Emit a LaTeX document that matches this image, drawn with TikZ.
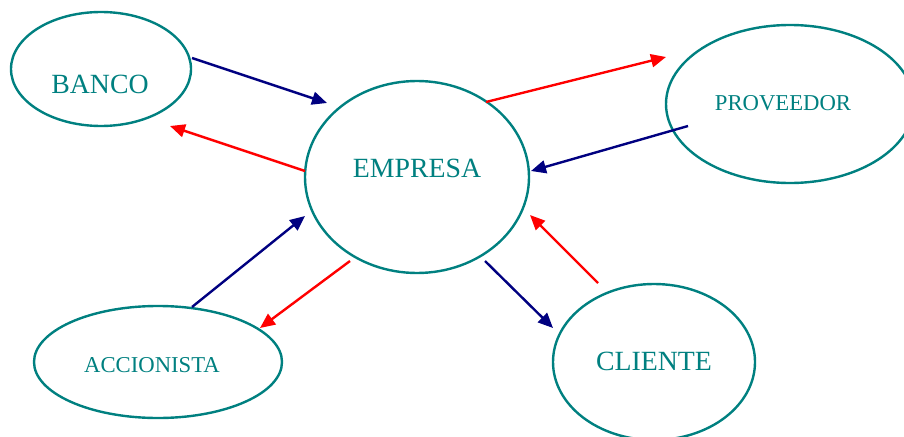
\documentclass[tikz,border=0pt]{standalone}
\usepackage{fontspec}
\setmainfont{Liberation Serif}
\usetikzlibrary{shapes.geometric,arrows.meta}
\definecolor{tealline}{HTML}{008080}
\definecolor{navyline}{HTML}{000080}
\definecolor{redline}{HTML}{FF0000}
\tikzset{
  entity/.style={ellipse, draw=tealline, line width=2.4pt, inner sep=0pt},
  biglabel/.style={text=tealline, anchor=base, inner sep=0pt, font=\fontsize{27.8}{32}\selectfont},
  smalllabel/.style={text=tealline, anchor=base, inner sep=0pt, font=\fontsize{22.7}{27}\selectfont},
  flow/.style={line width=2.4pt, -{Triangle[length=15pt,width=13pt]}},
  outflow/.style={flow, draw=navyline, fill=navyline},
  inflow/.style={flow, draw=redline, fill=redline}
}
\begin{document}
\begin{tikzpicture}[x=1pt, y=-1pt]
  \clip (0,0) rectangle (904,436);
  \useasboundingbox (0,0) rectangle (904,436);

  % entities
  \node[entity, minimum width=180pt, minimum height=114pt] (banco) at (101,69) {};
  \node[entity, minimum width=224pt, minimum height=192pt] (empresa) at (417,177) {};
  \node[entity, minimum width=248pt, minimum height=158pt] (proveedor) at (790,104) {};
  \node[entity, minimum width=248pt, minimum height=112pt] (accionista) at (158,362) {};
  \node[entity, minimum width=202pt, minimum height=156pt] (cliente) at (654,362) {};

  % labels
  \node[biglabel] (banco-txt) at (100,93) {BANCO};
  \node[biglabel] (empresa-txt) at (417,177) {EMPRESA};
  \node[smalllabel] (proveedor-txt) at (783,110.5) {PROVEEDOR};
  \node[smalllabel] (accionista-txt) at (152,372.5) {ACCIONISTA};
  \node[biglabel] (cliente-txt) at (654,370.5) {CLIENTE};

  % connector end points
  \coordinate (b-out) at (192,58);   \coordinate (e-in1) at (327,103);
  \coordinate (e-out1) at (305,171); \coordinate (b-in) at (170,126);
  \coordinate (e-out2) at (486,102); \coordinate (p-in) at (666,57);
  \coordinate (p-out) at (688,126);  \coordinate (e-in2) at (531,171);
  \coordinate (a-out) at (192,307);  \coordinate (e-in3) at (305,216);
  \coordinate (e-out3) at (350,261); \coordinate (a-in) at (260,328);
  \coordinate (e-out4) at (485,261); \coordinate (c-in) at (553,328);
  \coordinate (c-out) at (598,283);  \coordinate (e-in4) at (530,215);

  % money and goods flows
  \draw[outflow] (b-out) -- (e-in1);
  \draw[inflow] (e-out1) -- (b-in);
  \draw[inflow] (e-out2) -- (p-in);
  \draw[outflow] (p-out) -- (e-in2);
  \draw[outflow] (a-out) -- (e-in3);
  \draw[inflow] (e-out3) -- (a-in);
  \draw[outflow] (e-out4) -- (c-in);
  \draw[inflow] (c-out) -- (e-in4);
\end{tikzpicture}
\end{document}
